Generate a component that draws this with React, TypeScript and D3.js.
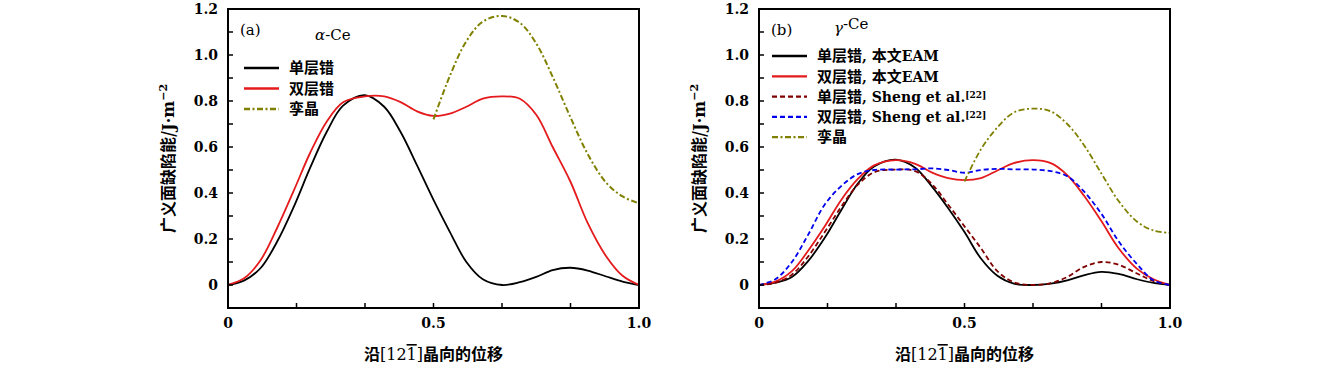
import React from "react";
import * as d3 from "d3";

// sample positions along [1 2 -1]
const xs = [0, 0.04, 0.08, 0.12, 0.16, 0.2, 0.24, 0.28, 0.333, 0.38, 0.42, 0.46, 0.5,
  0.54, 0.58, 0.62, 0.667, 0.71, 0.75, 0.79, 0.833, 0.875, 0.92, 0.96, 1.0];
const xsTwin = [0.5, 0.54, 0.58, 0.62, 0.667, 0.71, 0.75, 0.79, 0.833, 0.875, 0.92, 0.96, 1.0];

// (a) alpha-Ce
const aSingle = [0, 0.02, 0.075, 0.19, 0.34, 0.51, 0.665, 0.78, 0.825, 0.775, 0.665, 0.52, 0.37,
  0.23, 0.1, 0.025, 0, 0.012, 0.035, 0.065, 0.075, 0.063, 0.037, 0.015, 0];
const aDouble = [0, 0.03, 0.11, 0.25, 0.41, 0.575, 0.71, 0.795, 0.82, 0.82, 0.795, 0.755, 0.735,
  0.745, 0.775, 0.81, 0.82, 0.81, 0.74, 0.6, 0.45, 0.27, 0.125, 0.04, 0];
const aTwin = [0.72, 0.91, 1.06, 1.145, 1.17, 1.14, 1.05, 0.905, 0.73, 0.57, 0.445, 0.385, 0.355];

// (b) gamma-Ce
const bSingle = [0, 0.01, 0.035, 0.105, 0.205, 0.325, 0.44, 0.515, 0.545, 0.51, 0.43, 0.335, 0.23,
  0.115, 0.04, 0.006, 0, 0.006, 0.02, 0.042, 0.057, 0.048, 0.025, 0.009, 0];
const bDouble = [0, 0.015, 0.06, 0.15, 0.255, 0.37, 0.46, 0.52, 0.543, 0.527, 0.49, 0.465, 0.456,
  0.465, 0.498, 0.53, 0.543, 0.53, 0.478, 0.39, 0.278, 0.16, 0.07, 0.025, 0];
const bShengSingle = [0, 0.01, 0.045, 0.125, 0.23, 0.34, 0.435, 0.49, 0.502, 0.495, 0.44, 0.35, 0.255,
  0.16, 0.06, 0.012, 0, 0.008, 0.035, 0.078, 0.1, 0.088, 0.05, 0.017, 0];
const bShengDouble = [0, 0.025, 0.1, 0.22, 0.35, 0.43, 0.482, 0.5, 0.502, 0.503, 0.507, 0.5, 0.488,
  0.5, 0.505, 0.503, 0.502, 0.495, 0.473, 0.408, 0.31, 0.19, 0.09, 0.02, 0];
const bTwin = [0.45, 0.59, 0.685, 0.75, 0.767, 0.755, 0.7, 0.61, 0.485, 0.365, 0.275, 0.237, 0.227];

const yTicks = [0, 0.2, 0.4, 0.6, 0.8, 1.0, 1.2];
const yMinor = [-0.1, 0, 0.1, 0.2, 0.3, 0.4, 0.5, 0.6, 0.7, 0.8, 0.9, 1.0, 1.1];
const xTicks = [0, 0.5, 1.0];
const xMinor = [1 / 6, 2 / 6, 0.5, 4 / 6, 5 / 6];

const serif = "DejaVu Serif";
const cjk = "Noto Sans CJK SC";

type Series = { xs: number[]; ys: number[]; color: string; dash?: string; width: number; label: React.ReactNode };

const fmt = (v: number) => (v === 0 ? "0" : v.toFixed(1));

function Panel({ left, tag, title, series, legendX, legendY, legendStep }: {
  left: number; tag: string; title: React.ReactNode; series: Series[];
  legendX: number; legendY: number; legendStep: number;
}) {
  const x = d3.scaleLinear().domain([0, 1]).range([left, left + 411]);
  const y = d3.scaleLinear().domain([-0.1, 1.2]).range([308, 9]);
  const line = d3.line<[number, number]>().x(d => x(d[0])).y(d => y(d[1])).curve(d3.curveCatmullRom.alpha(0.5));
  const [x0, x1] = x.range();
  const [yb, yt] = y.range();
  return (
    <g>
      <defs>
        <clipPath id={"clip" + tag}>
          <rect x={x0} y={yt} width={x1 - x0} height={yb - yt} />
        </clipPath>
      </defs>
      <g clipPath={`url(#clip${tag})`}>
        {series.map((s, i) => (
          <path key={i} d={line(s.xs.map((v, j) => [v, s.ys[j]]) as [number, number][]) || ""}
            fill="none" stroke={s.color} strokeWidth={s.width} strokeDasharray={s.dash} />
        ))}
      </g>
      {yMinor.map(t => (
        <line key={"ym" + t} x1={x0} x2={x0 + 5} y1={y(t)} y2={y(t)} stroke="#000" strokeWidth={1.5} />
      ))}
      {xMinor.map(t => (
        <line key={"xm" + t} x1={x(t)} x2={x(t)} y1={yb} y2={yb - 5} stroke="#000" strokeWidth={1.5} />
      ))}
      <rect x={x0} y={yt} width={x1 - x0} height={yb - yt} fill="none" stroke="#000" strokeWidth={2} />
      {yTicks.map(t => (
        <text key={"yl" + t} x={x0 - 10} y={y(t)} dy="0.36em" textAnchor="end"
          fontFamily={serif} fontWeight="bold" fontSize={14}>{fmt(t)}</text>
      ))}
      {xTicks.map(t => (
        <text key={"xl" + t} x={x(t)} y={yb + 20} textAnchor="middle"
          fontFamily={serif} fontWeight="bold" fontSize={14}>{fmt(t)}</text>
      ))}
      <text transform={`translate(${x0 - 54},${y(0.55)}) rotate(-90)`} textAnchor="middle"
        fontSize={16} fontFamily={cjk} fontWeight="bold">
        广义面缺陷能/<tspan fontFamily={serif}>J·m</tspan>
        <tspan fontFamily={serif} fontSize={11} dy={-7}>−2</tspan>
      </text>
      <text x={(x0 + x1) / 2} y={360} textAnchor="middle" fontSize={16} fontFamily={cjk} fontWeight="bold">
        沿<tspan fontFamily={serif} fontWeight="normal">[12</tspan>
        <tspan fontFamily={serif} fontWeight="normal" style={{ textDecoration: "overline" }}>1</tspan>
        <tspan fontFamily={serif} fontWeight="normal">]</tspan>晶向的位移
      </text>
      <text x={x0 + 12} y={35} fontFamily={serif} fontSize={15}>({tag})</text>
      {title}
      {series.map((s, i) => (
        <g key={"lg" + i}>
          <line x1={legendX} x2={legendX + 35} y1={legendY + i * legendStep} y2={legendY + i * legendStep}
            stroke={s.color} strokeWidth={s.width + 0.5} strokeDasharray={s.dash} />
          <text x={legendX + 45} y={legendY + i * legendStep} dy="0.35em" fontSize={15}>{s.label}</text>
        </g>
      ))}
    </g>
  );
}

const cn = (t: string) => <tspan fontFamily={cjk} fontWeight="bold" fontSize={15}>{t}</tspan>;
const lat = (t: string) => <tspan fontFamily={serif} fontWeight="bold" fontSize={14}>{t}</tspan>;
const ref22 = <tspan fontFamily={serif} fontWeight="bold" fontSize={9} dy={-4}>[22]</tspan>;

export default function App() {
  const olive = "#808000";
  const dashDot = "6,2.5,2,2.5";
  const seriesA: Series[] = [
    { xs, ys: aSingle, color: "#000", width: 1.8, label: cn("单层错") },
    { xs, ys: aDouble, color: "#e41a1c", width: 1.8, label: cn("双层错") },
    { xs: xsTwin, ys: aTwin, color: olive, width: 2, dash: dashDot, label: cn("孪晶") },
  ];
  const seriesB: Series[] = [
    { xs, ys: bSingle, color: "#000", width: 1.8, label: <>{cn("单层错")}{lat(", ")}{cn("本文")}{lat("EAM")}</> },
    { xs, ys: bDouble, color: "#e41a1c", width: 1.8, label: <>{cn("双层错")}{lat(", ")}{cn("本文")}{lat("EAM")}</> },
    { xs, ys: bShengSingle, color: "#800000", width: 1.8, dash: "5,3", label: <>{cn("单层错")}{lat(", Sheng et al.")}{ref22}</> },
    { xs, ys: bShengDouble, color: "#0000ee", width: 1.8, dash: "5,3", label: <>{cn("双层错")}{lat(", Sheng et al.")}{ref22}</> },
    { xs: xsTwin, ys: bTwin, color: olive, width: 1.8, dash: dashDot, label: cn("孪晶") },
  ];
  return (
    <svg width={1339} height={370} style={{ position: "absolute", left: 0, top: 0, background: "#fff" }}>
      <Panel left={228} tag="a" series={seriesA} legendX={244} legendY={68} legendStep={20.5}
        title={<text x={315} y={40} fontFamily={serif} fontSize={15}><tspan fontStyle="italic">α</tspan>-Ce</text>} />
      <Panel left={759} tag="b" series={seriesB} legendX={772} legendY={56} legendStep={20.3}
        title={<text x={834} y={33} fontFamily={serif} fontSize={15}><tspan fontStyle="italic">γ</tspan><tspan dy={-4}>-Ce</tspan></text>} />
    </svg>
  );
}
